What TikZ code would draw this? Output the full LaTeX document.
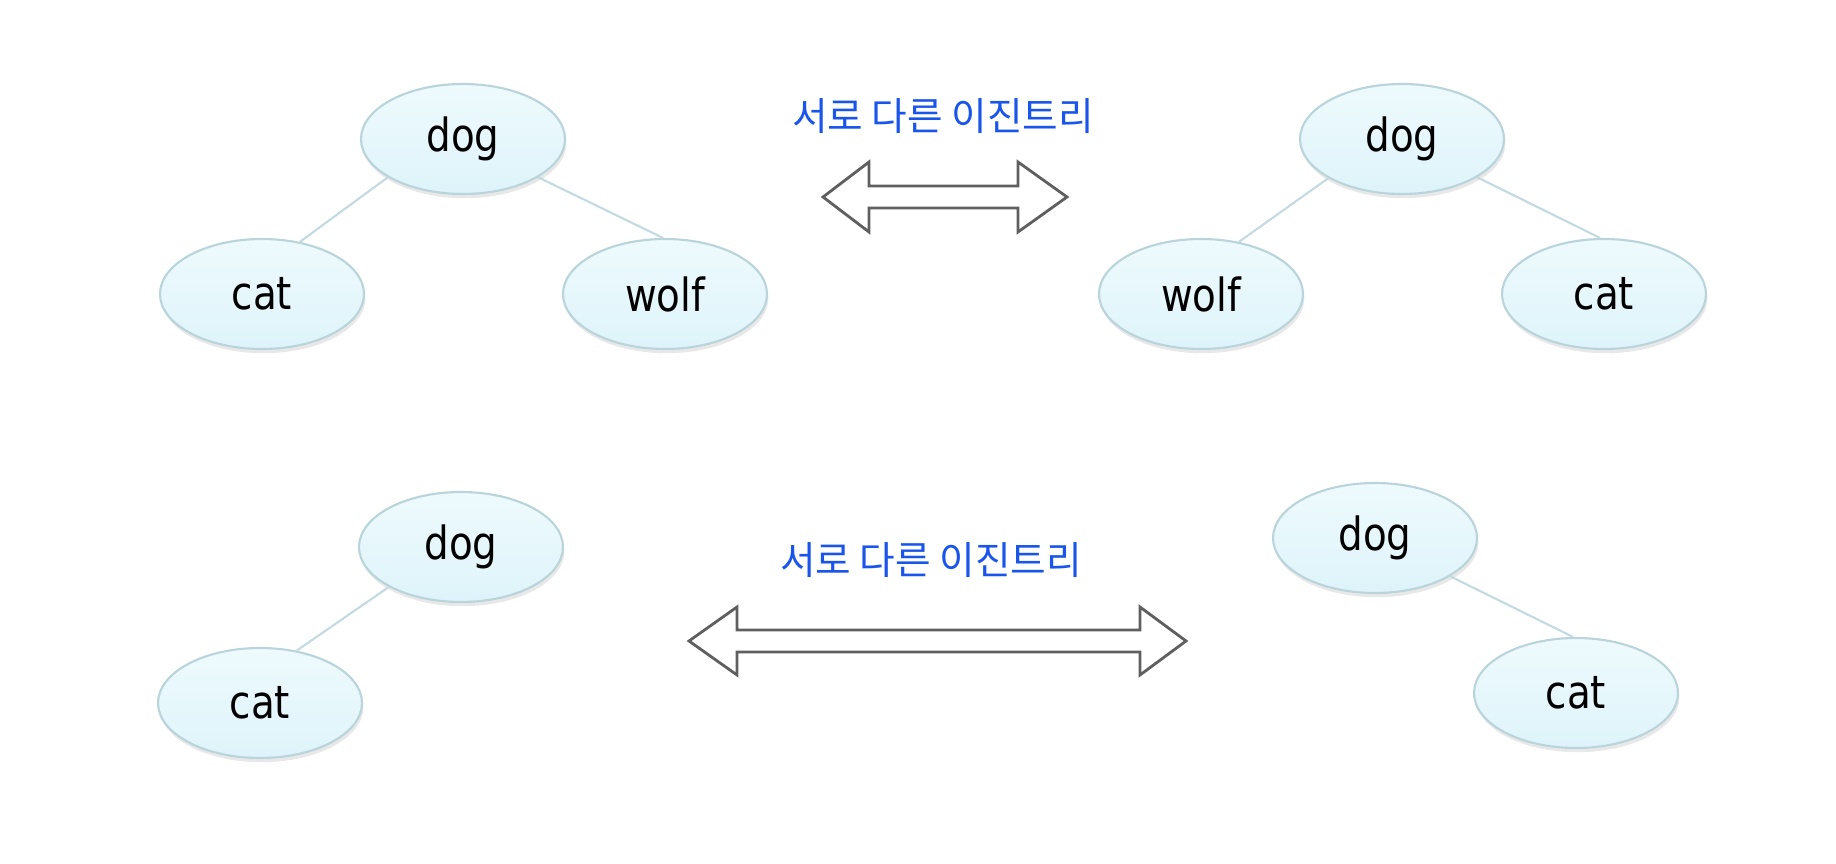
\documentclass[tikz,border=0pt]{standalone}
\usepackage{fontspec}
\setmainfont{DejaVu Sans}[FakeStretch=0.85]
\newfontfamily\kofont{Noto Sans CJK KR}
\usepackage{tikz}
\usetikzlibrary{shapes.geometric, shadows, calc}

\definecolor{nodetop}{RGB}{238,250,253}
\definecolor{nodebot}{RGB}{222,244,250}
\definecolor{nodeline}{RGB}{185,212,218}
\definecolor{edgeline}{RGB}{195,218,224}
\definecolor{labelblue}{RGB}{25,85,235}
\definecolor{arrowgray}{RGB}{95,95,95}

\tikzset{
  treenode/.style={ellipse, draw=nodeline, line width=0.6pt,
    top color=nodetop, bottom color=nodebot,
    minimum width=2.04cm, minimum height=1.1cm, inner sep=0pt,
    drop shadow={opacity=0.18, shadow xshift=0.4pt, shadow yshift=-1.2pt},
    font=\fontsize{13}{15}\selectfont},
  treeedge/.style={draw=edgeline, line width=0.6pt},
  difflabel/.style={text=labelblue, font=\kofont\fontsize{11}{13}\selectfont},
  blockarrow/.style={draw=arrowgray, line width=0.8pt, fill=white, line join=miter}
}

\begin{document}
\begin{tikzpicture}
  \path[use as bounding box] (0,0) rectangle (18.36,-8.64);

  % Top row (left)
  \node[treenode] (dog1)  at (4.63,-1.39) {dog};
  \node[treenode] (cat1)  at (2.62,-2.94) {cat};
  \node[treenode] (wolf1) at (6.65,-2.94) {wolf};
  \draw[treeedge] (dog1.207) -- (cat1.54);
  \draw[treeedge] (dog1.333) -- (wolf1.92);

  % Top row (middle)
  \node[difflabel] (lab1) at (9.43,-1.16) {서로 다른 이진트리};
  \coordinate (l1) at (8.23,-1.97);
  \coordinate (r1) at (10.67,-1.97);
  \draw[blockarrow] (l1) -- ++(0.46,0.35) -- ++(0,-0.24)
    -- ($(r1)+(-0.49,0.11)$) -- ++(0,0.24) -- (r1) -- ++(-0.49,-0.35)
    -- ++(0,0.24) -- ($(l1)+(0.46,-0.11)$) -- ++(0,-0.24) -- cycle;

  % Top row (right)
  \node[treenode] (dog2)  at (14.02,-1.39) {dog};
  \node[treenode] (wolf2) at (12.01,-2.94) {wolf};
  \node[treenode] (cat2)  at (16.04,-2.94) {cat};
  \draw[treeedge] (dog2.208) -- (wolf2.54);
  \draw[treeedge] (dog2.333) -- (cat2.94);

  % Bottom row (left)
  \node[treenode] (dog3) at (4.61,-5.47) {dog};
  \node[treenode] (cat3) at (2.60,-7.03) {cat};
  \draw[treeedge] (dog3.209) -- (cat3.55);

  % Bottom row (middle)
  \node[difflabel] (lab2) at (9.31,-5.60) {서로 다른 이진트리};
  \coordinate (l2) at (6.89,-6.41);
  \coordinate (r2) at (11.86,-6.41);
  \draw[blockarrow] (l2) -- ++(0.48,0.34) -- ++(0,-0.23)
    -- ($(r2)+(-0.46,0.11)$) -- ++(0,0.23) -- (r2) -- ++(-0.46,-0.34)
    -- ++(0,0.23) -- ($(l2)+(0.48,-0.11)$) -- ++(0,-0.23) -- cycle;

  % Bottom row (right)
  \node[treenode] (dog4) at (13.75,-5.38) {dog};
  \node[treenode] (cat4) at (15.76,-6.93) {cat};
  \draw[treeedge] (dog4.333) -- (cat4.93);
\end{tikzpicture}
\end{document}
